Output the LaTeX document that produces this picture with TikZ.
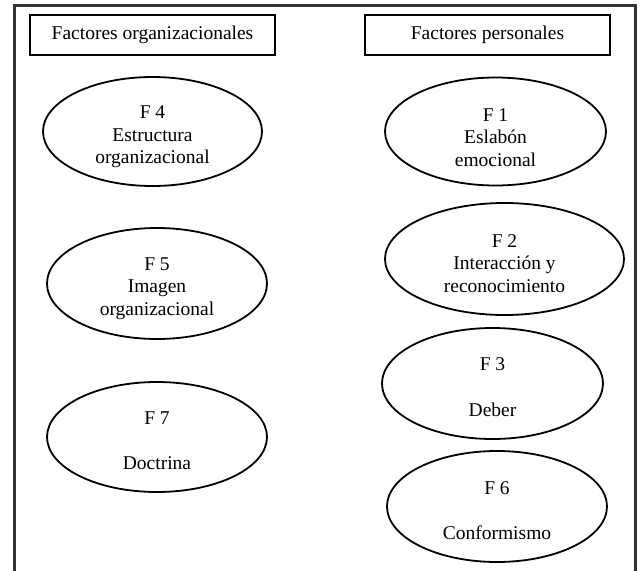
\documentclass[tikz,border=0pt]{standalone}
\usepackage{fontspec}
\setmainfont{Liberation Serif}
\usetikzlibrary{shapes.geometric}
\begin{document}
\begin{tikzpicture}[x=1pt,y=-1pt,
  every node/.style={font=\fontsize{19.5}{22.5}\selectfont},
  hdrbox/.style={draw, line width=1.6pt, minimum width=245pt, minimum height=40pt, inner sep=0pt},
  ell/.style={draw, ellipse, line width=1.8pt, inner sep=0pt},
  txt/.style={align=center, inner sep=0pt},
  frame/.style={draw=black!80, line width=3pt}]
\useasboundingbox (0,0) rectangle (641,571);
% outer frame (open at the bottom)
\coordinate (fbl) at (14.5,575);
\coordinate (ftl) at (14.5,5.5);
\coordinate (ftr) at (635.5,5.5);
\coordinate (fbr) at (635.5,575);
\draw[frame] (fbl) -- (ftl) -- (ftr) -- (fbr);
% headers
\node[hdrbox] (horg) at (152.5,35) {Factores organizacionales};
\node[hdrbox] (hper) at (487.5,35) {Factores personales};
% left column
\node[ell, minimum width=219pt, minimum height=109pt] (f4) at (152.5,131.5) {};
\node[txt] at ([yshift=-5.5pt]f4.center) {F 4\\Estructura\\organizacional};
\node[ell, minimum width=220pt, minimum height=111pt] (f5) at (157,283.5) {};
\node[txt] at ([yshift=-5pt]f5.center) {F 5\\Imagen\\organizacional};
\node[ell, minimum width=220pt, minimum height=110pt] (f7) at (157,437) {};
\node[txt] at ([yshift=-3.5pt]f7.center) {F 7\\[23pt]Doctrina};
% right column
\node[ell, minimum width=221pt, minimum height=108pt] (f1) at (495.5,131.5) {};
\node[txt] at ([yshift=-6pt]f1.center) {F 1\\Eslabón\\emocional};
\node[ell, minimum width=239pt, minimum height=112pt] (f2) at (504.5,259) {};
\node[txt] at ([yshift=-4.5pt]f2.center) {F 2\\Interacción y\\reconocimiento};
\node[ell, minimum width=221pt, minimum height=111pt] (f3) at (492.5,383.5) {};
\node[txt] at ([yshift=-3.5pt]f3.center) {F 3\\[23pt]Deber};
\node[ell, minimum width=220pt, minimum height=111pt] (f6) at (497,506.5) {};
\node[txt] at ([yshift=-4pt]f6.center) {F 6\\[23pt]Conformismo};
\end{tikzpicture}
\end{document}
